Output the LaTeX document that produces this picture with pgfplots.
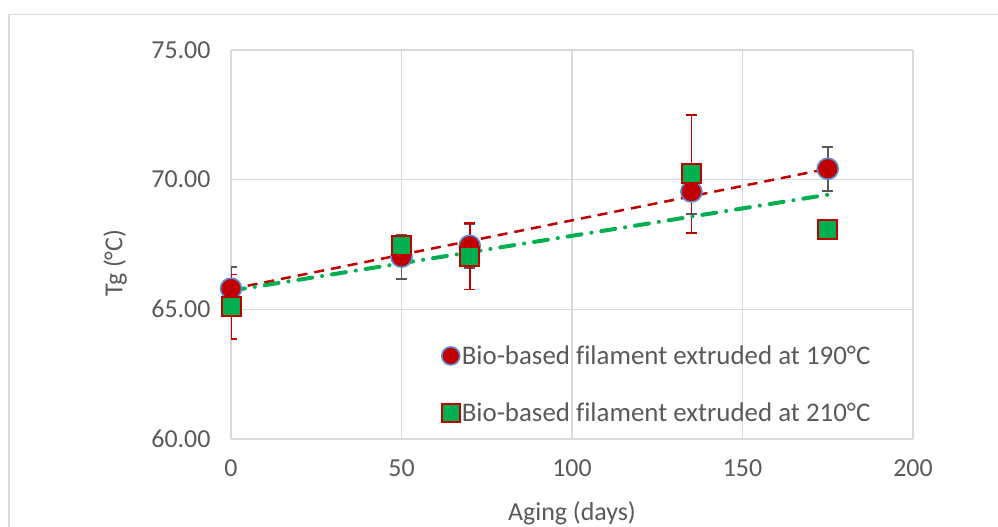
\documentclass[border=0pt]{standalone}
\usepackage{pgfplots}
\pgfplotsset{compat=1.18}
\usepackage{fontspec}
\setmainfont[Ligatures=NoCommon]{Carlito}
\definecolor{txtgray}{HTML}{595959}
\definecolor{gridgray}{HTML}{D9D9D9}
\definecolor{xred}{HTML}{C00000}
\definecolor{xgreen}{HTML}{00B050}
\definecolor{xblue}{HTML}{5B8BD0}
\begin{document}
\begin{tikzpicture}
\useasboundingbox (0,0) rectangle (998bp,527bp);
\draw[gridgray, line width=1.5bp] (9bp,0) -- (9bp,512.5bp) -- (998bp,512.5bp);
\begin{axis}[
  at={(231bp,88bp)}, anchor=south west,
  width=682bp, height=389bp, scale only axis,
  xmin=0, xmax=200, ymin=60, ymax=75,
  xtick={0,50,100,150,200}, ytick={60,65,70,75},
  axis line style={draw=none},
  major tick length=0pt,
  grid=major,
  grid style={gridgray, line width=1.2bp},
  font=\fontsize{26}{31}\selectfont,
  ticklabel style={text=txtgray},
  /pgf/number format/assume math mode=true,
  yticklabel style={/pgf/number format/fixed, /pgf/number format/fixed zerofill, /pgf/number format/precision=2, xshift=-17bp},
  xticklabel style={yshift=-17bp},
  xlabel={Aging (days)}, ylabel={Tg (°C)},
  label style={text=txtgray},
  xlabel style={at={(axis description cs:0.5,0)}, anchor=base, yshift=-81bp},
  ylabel style={at={(axis description cs:-0.17,0.452)}, anchor=center, rotate=0},
  legend style={draw=none, fill=none, at={(0.3044,0.03)}, anchor=south west,
    font=\fontsize{27}{32}\selectfont, text=txtgray, row sep=33bp,
    /tikz/every even column/.append style={column sep=2bp}},
  legend cell align=left,
  legend image code/.code={\draw[#1, mark size=9bp] plot coordinates {(0bp,0bp)};},
]
\addplot[only marks, mark=*, mark size=10.5bp,
  mark options={fill=xred, draw=xblue, line width=1.6bp},
  error bars/.cd, y dir=both, y explicit,
  error bar style={txtgray, line width=1.6bp},
  error mark options={rotate=90, mark size=5.5bp, line width=1.6bp, txtgray}]
coordinates {
(0,65.80) +- (0,0.83)
(50,67.03) +- (0,0.85)
(70,67.45) +- (0,0.85)
(135,69.54) +- (0,0.86)
(175,70.42) +- (0,0.85)
};
\addlegendentry{Bio-based filament extruded at 190°C}
\addplot[only marks, mark=square*, mark size=9.5bp,
  mark options={fill=xgreen, draw=xred, line width=2bp},
  error bars/.cd, y dir=both, y explicit,
  error bar style={xred, line width=1.6bp},
  error mark options={rotate=90, mark size=5.5bp, line width=1.6bp, xred}]
coordinates {
(0,65.10) +- (0,1.25)
(50,67.45) +- (0,0.30)
(70,67.05) +- (0,1.28)
(135,70.22) +- (0,2.27)
(175,68.07) +- (0,0.20)
};
\addlegendentry{Bio-based filament extruded at 210°C}
\addplot[forget plot, xred, line width=2.5bp, dash pattern=on 10bp off 7bp]
coordinates {(0,65.78) (175,70.42)};
\addplot[forget plot, xgreen, line width=4bp, line cap=round,
  dash pattern=on 14bp off 10bp on 0.1bp off 10bp]
coordinates {(0,65.72) (175,69.42)};
\end{axis}
\end{tikzpicture}
\end{document}
